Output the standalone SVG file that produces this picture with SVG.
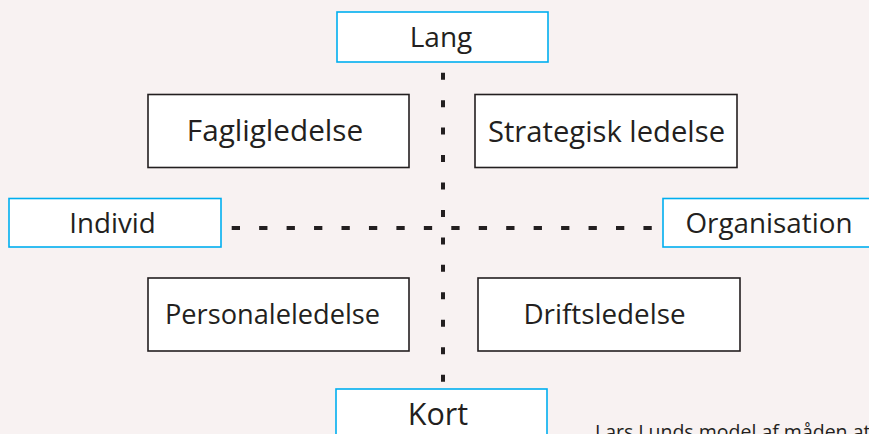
<svg xmlns="http://www.w3.org/2000/svg" width="869" height="434" viewBox="0 0 869 434">
<style>
.bg{fill:#f8f2f2}
.ax{fill:#ffffff;stroke:#00aeef;stroke-width:1.6}
.bx{fill:#ffffff;stroke:#231f20;stroke-width:1.6}
.t{font-family:"Open Sans","Noto Sans",sans-serif;font-size:28px;fill:#231f20;text-anchor:middle}
.dash{stroke:#231f20;stroke-width:4;fill:none}
.cap{font-family:"Open Sans","Noto Sans",sans-serif;font-size:19.5px;fill:#231f20}
</style>
<rect class="bg" x="0" y="0" width="869" height="434"/>
<g id="connectors">
<line class="dash" x1="443" y1="72.7" x2="443" y2="385" stroke-dasharray="7 20.45"/>
<line class="dash" x1="231.7" y1="228" x2="655" y2="228" stroke-dasharray="8.3 19.15"/>
</g>
<g id="lang"><rect class="ax" x="337" y="12" width="211" height="50"/><text class="t" x="441" y="46.5">Lang</text></g>
<g id="kort"><rect class="ax" x="336" y="389" width="211" height="60"/><text class="t" x="438" y="425" style="font-size:30.5px">Kort</text></g>
<g id="individ"><rect class="ax" x="9" y="198.5" width="212" height="48.5"/><text class="t" x="112.5" y="233" style="font-size:27.7px">Individ</text></g>
<g id="organisation"><rect class="ax" x="663" y="198.5" width="220" height="48.5"/><text class="t" x="769" y="233" style="font-size:27.8px">Organisation</text></g>
<g id="fagligledelse"><rect class="bx" x="148" y="94.5" width="261" height="73"/><text class="t" x="275" y="141" style="font-size:29.7px">Fagligledelse</text></g>
<g id="strategisk"><rect class="bx" x="475" y="94.5" width="262" height="73"/><text class="t" x="606.5" y="141.5" style="font-size:29.2px">Strategisk ledelse</text></g>
<g id="personaleledelse"><rect class="bx" x="148" y="278" width="261" height="73"/><text class="t" x="272.5" y="324" style="font-size:27.2px">Personaleledelse</text></g>
<g id="driftsledelse"><rect class="bx" x="478" y="278" width="262" height="73"/><text class="t" x="604.5" y="324" style="font-size:27.8px">Driftsledelse</text></g>
<text class="cap" x="595" y="439">Lars Lunds model af måden at</text>
</svg>
